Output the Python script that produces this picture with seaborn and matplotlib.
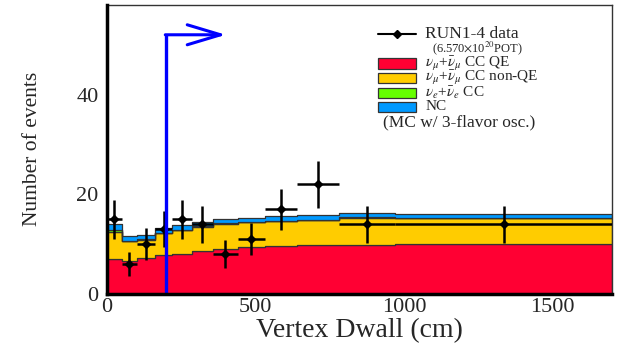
import numpy as np
import pandas as pd
import matplotlib
matplotlib.use("Agg")
import matplotlib.pyplot as plt
import seaborn as sns
from matplotlib.patches import Rectangle
from matplotlib.lines import Line2D
from matplotlib.ticker import MultipleLocator

# ---------------- data ----------------
bin_edges = [0, 50, 100, 160, 220, 285, 355, 440, 530, 640, 780, 970, 1700]
data_counts = [15, 6, 10, 13, 15, 14, 8, 11, 17, 22, 14, 14]
data_err = [3.9, 2.4, 3.2, 3.6, 3.9, 3.7, 2.8, 3.3, 4.1, 4.7, 3.7, 3.7]
mc_numu_ccqe = [6.9, 6.6, 7.1, 7.7, 8.1, 8.7, 9.1, 9.4, 9.6, 9.8, 9.9, 10.1]
mc_numu_ccnonqe = [5.5, 4.0, 3.8, 4.5, 4.7, 4.8, 5.0, 5.0, 5.0, 5.0, 5.4, 5.1]
mc_nue_cc = [0.4, 0.1, 0.1, 0.1, 0.1, 0.1, 0.1, 0.1, 0.1, 0.1, 0.1, 0.1]
mc_nc = [1.3, 0.9, 0.8, 0.9, 0.9, 0.8, 0.8, 0.8, 0.9, 0.9, 0.9, 0.8]

component_names = ["QE", "nonQE", "nue", "NC"]
component_colors = {"QE": "#FF0033", "nonQE": "#FFCC00", "nue": "#66FF00", "NC": "#0099FF"}
component_labels = [
    r"$\nu_{\mu}$+$\bar{\nu}_{\mu}$ CC QE",
    r"$\nu_{\mu}$+$\bar{\nu}_{\mu}$ CC non-QE",
    r"$\nu_{e}$+$\bar{\nu}_{e}$ CC",
    "NC",
]
data_label = "RUN1-4 data"
pot_label = r"(6.570$\times$10$^{20}$POT)"
mc_note = "(MC w/ 3-flavor osc.)"

cut_dwall = 200
arrow_y = 52
arrow_end = 400

x_label = "Vertex Dwall (cm)"
y_label = "Number of events"

# ---------------- build table ----------------
edges = np.array(bin_edges, dtype=float)
centers = 0.5 * (edges[:-1] + edges[1:])
halfw = 0.5 * (edges[1:] - edges[:-1])

series = {"QE": mc_numu_ccqe, "nonQE": mc_numu_ccnonqe, "nue": mc_nue_cc, "NC": mc_nc}
rows = []
for name in component_names:
    for c, v in zip(centers, series[name]):
        rows.append({"x": float(c), "w": float(v), "comp": name})
df = pd.DataFrame(rows)

# ---------------- style ----------------
sns.set_theme(style="white")
plt.rcParams["font.family"] = ["Liberation Serif", "DejaVu Serif"]
plt.rcParams["mathtext.fontset"] = "stix"

fig = plt.figure(figsize=(6.41, 3.49), dpi=100)
ax = fig.add_axes([0.167, 0.158, 0.788, 0.828])

sns.histplot(
    data=df, x="x", weights="w", hue="comp", bins=list(bin_edges),
    hue_order=component_names[::-1], palette=component_colors,
    multiple="stack", element="step", fill=True, alpha=1.0,
    edgecolor="#333333", linewidth=0.9, legend=False, ax=ax,
)

# data points
ax.errorbar(centers, data_counts, xerr=halfw, yerr=data_err, fmt="D",
            color="black", ms=4.5, elinewidth=1.8, capsize=0, zorder=5)

# cut arrow
ax.plot([cut_dwall, cut_dwall], [0, arrow_y], color="#0000FF", lw=2.4, zorder=6,
        solid_capstyle="butt")
ax.annotate("", xy=(arrow_end, arrow_y), xytext=(cut_dwall - 4, arrow_y),
            arrowprops=dict(arrowstyle="->,head_length=2.0,head_width=0.6",
                            color="#0000FF", lw=2.2, shrinkA=0, shrinkB=0),
            zorder=6)

ax.set_xlim(0, 1700)
ax.set_ylim(0, 58)
ax.set_axisbelow(False)
ax.set_xlabel(x_label, fontsize=20, labelpad=1)
ax.set_ylabel(y_label, fontsize=15.5, labelpad=25)

ax.xaxis.set_major_locator(MultipleLocator(500))
ax.xaxis.set_minor_locator(MultipleLocator(100))
ax.yaxis.set_major_locator(MultipleLocator(20))
ax.yaxis.set_minor_locator(MultipleLocator(5))
ax.tick_params(axis="both", which="both", direction="in", labelsize=16,
               top=False, right=False)
ax.tick_params(axis="x", which="major", length=9, width=1.0, color="#222222", pad=3)
ax.tick_params(axis="x", which="minor", length=5, width=1.0, color="#222222")
ax.tick_params(axis="y", which="major", length=13, width=1.0, color="#888888", pad=6)
ax.tick_params(axis="y", which="minor", length=7, width=1.0, color="#888888")

for side in ["top", "right"]:
    ax.spines[side].set_linewidth(1.0)
    ax.spines[side].set_color("#333333")
for side in ["left", "bottom"]:
    ax.spines[side].set_linewidth(2.5)
    ax.spines[side].set_color("black")
    ax.spines[side].set_zorder(10)

# legend (drawn in axes coordinates)
tr = ax.transAxes
hx0, hx1, tx = 0.537, 0.612, 0.630
leg_fs = 11
ax.add_line(Line2D([hx0, hx1], [0.898, 0.898], transform=tr, color="black", lw=1.5))
ax.add_line(Line2D([(hx0 + hx1) / 2], [0.898], transform=tr, color="black",
                   marker="D", ms=4.5, lw=0))
ax.text(tx, 0.898, data_label, transform=tr, fontsize=12.5, ha="left", va="center")
ax.text(0.644, 0.850, pot_label, transform=tr, fontsize=9, ha="left", va="center")
row_y = [0.797, 0.747, 0.696, 0.647]
for name, lab, yy in zip(component_names, component_labels, row_y):
    ax.add_patch(Rectangle((hx0, yy - 0.018), hx1 - hx0, 0.036, transform=tr,
                           facecolor=component_colors[name], edgecolor="#333333",
                           lw=0.9, clip_on=False))
    ax.text(tx, yy, lab, transform=tr, fontsize=leg_fs, ha="left", va="center")
ax.text(0.547, 0.593, mc_note, transform=tr, fontsize=12.5, ha="left", va="center")

fig.savefig("out.png", dpi=100)
